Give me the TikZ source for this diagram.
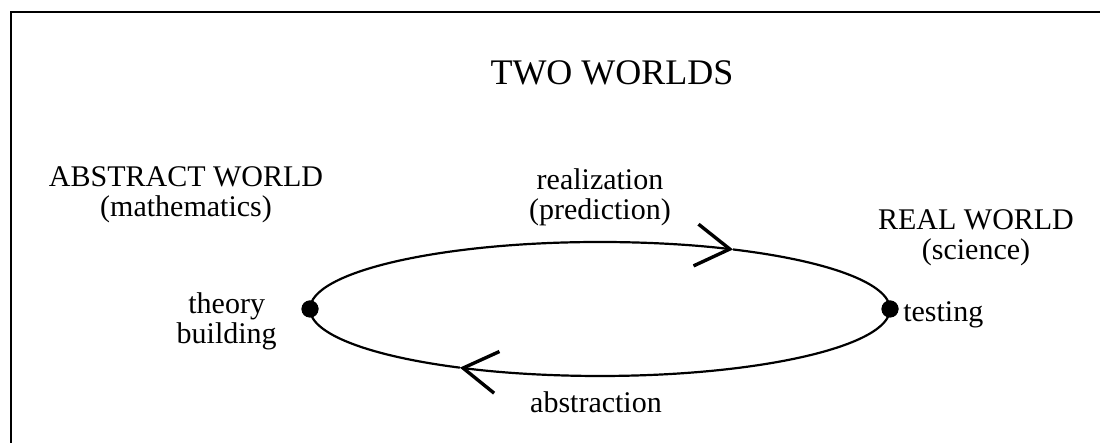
\documentclass[tikz,border=0pt]{standalone}
\usepackage{fontspec}
\setmainfont{Liberation Serif}
\usetikzlibrary{arrows.meta,positioning}

\begin{document}
\begin{tikzpicture}[
  x=0.5pt, y=0.5pt,
  txt/.style={inner sep=0pt, align=center, font=\fontsize{15}{15}\selectfont},
  dot/.style={circle, fill, minimum size=8.5pt, inner sep=0pt},
  ring/.style={line width=1.1pt},
  arrow/.style={-{Straight Barb[length=17pt, width=21pt, line width=1.7pt]}}
]
\clip (0,0) rectangle (1100,443);
% frame, cut off at the right and at the bottom
\draw[line width=1pt] (11,-20) rectangle (1130,431);

\node (title) [txt, anchor=base, font=\fontsize{18}{18}\selectfont] at (612,358) {TWO WORLDS};
\node (abstract) [txt, anchor=base] at (186,226) {ABSTRACT WORLD\\(mathematics)};
\node (realw) [txt, anchor=base] at (976,183) {REAL WORLD\\(science)};

\node (build) [dot] at (310,134) {};
\node (test) [dot] at (890,134) {};
\node (buildtxt) [txt, left=12pt of build, yshift=-6pt] {theory\\building};
\node (testtxt) [txt, right=2pt of test, yshift=-3pt] {testing};

\node (realize) [txt, anchor=base] at (600,223) {realization\\(prediction)};
\node (abstr) [txt, anchor=base] at (596,30) {abstraction};

% the cycle: upper half towards the real world, lower half back
\draw[ring, arrow] (build.center) arc[start angle=180, end angle=62.7, x radius=290, y radius=67] coordinate (tiptop);
\draw[ring] (tiptop) arc[start angle=62.7, end angle=0, x radius=290, y radius=67];
\draw[ring, arrow] (test.center) arc[start angle=360, end angle=241.1, x radius=290, y radius=67] coordinate (tipbot);
\draw[ring] (tipbot) arc[start angle=241.1, end angle=180, x radius=290, y radius=67];
\node[dot] at (build) {};
\node[dot] at (test) {};
\end{tikzpicture}
\end{document}
